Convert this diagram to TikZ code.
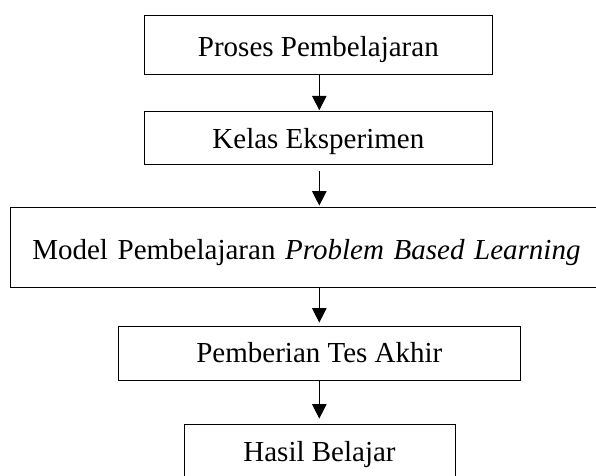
\documentclass[tikz,border=0pt]{standalone}
\usepackage{fontspec}
\setmainfont{Liberation Serif}
\usetikzlibrary{arrows.meta}
\begin{document}
\begin{tikzpicture}[x=1pt,y=-1pt,
  box/.style={draw, line width=0.9pt, inner sep=0pt, font=\fontsize{29}{34}\selectfont, text depth=0pt},
  arr/.style={line width=0.95pt, -{Triangle[length=14.5pt,width=14.5pt]}}]
\useasboundingbox (0,0) rectangle (596,475);
\clip (0,0) rectangle (596,475);
\node[box, minimum width=348.7pt, minimum height=59pt, text height=23.8pt] (b1) at (318.35,44.8) {Proses Pembelajaran};
\node[box, minimum width=348.7pt, minimum height=52.6pt, text height=20.6pt] (b2) at (318.35,138) {Kelas Eksperimen};
\node[box, minimum height=80pt, text width=556.1pt, align=left, inner xsep=21.6pt, text height=24pt] (b3) at (310.35,247.3) {Model Pembelajaran \textit{Problem Based Learning}};
\node[box, minimum width=402.7pt, minimum height=54.7pt, text height=18.6pt] (b4) at (319.35,353.35) {Pemberian Tes Akhir};
\node[box, minimum width=271pt, minimum height=55pt, text height=20.4pt] (b5) at (319.5,451.5) {Hasil Belajar};
\coordinate (ax) at (319.3,0);
\draw[arr, shorten >=1pt] (b1.south -| ax) -- (b2.north -| ax);
\draw[arr, shorten <=6.4pt, shorten >=1.3pt] (b2.south -| ax) -- (b3.north -| ax);
\draw[arr, shorten >=3pt] (b3.south -| ax) -- (b4.north -| ax);
\draw[arr, shorten >=5pt] (b4.south -| ax) -- (b5.north -| ax);
\end{tikzpicture}
\end{document}
